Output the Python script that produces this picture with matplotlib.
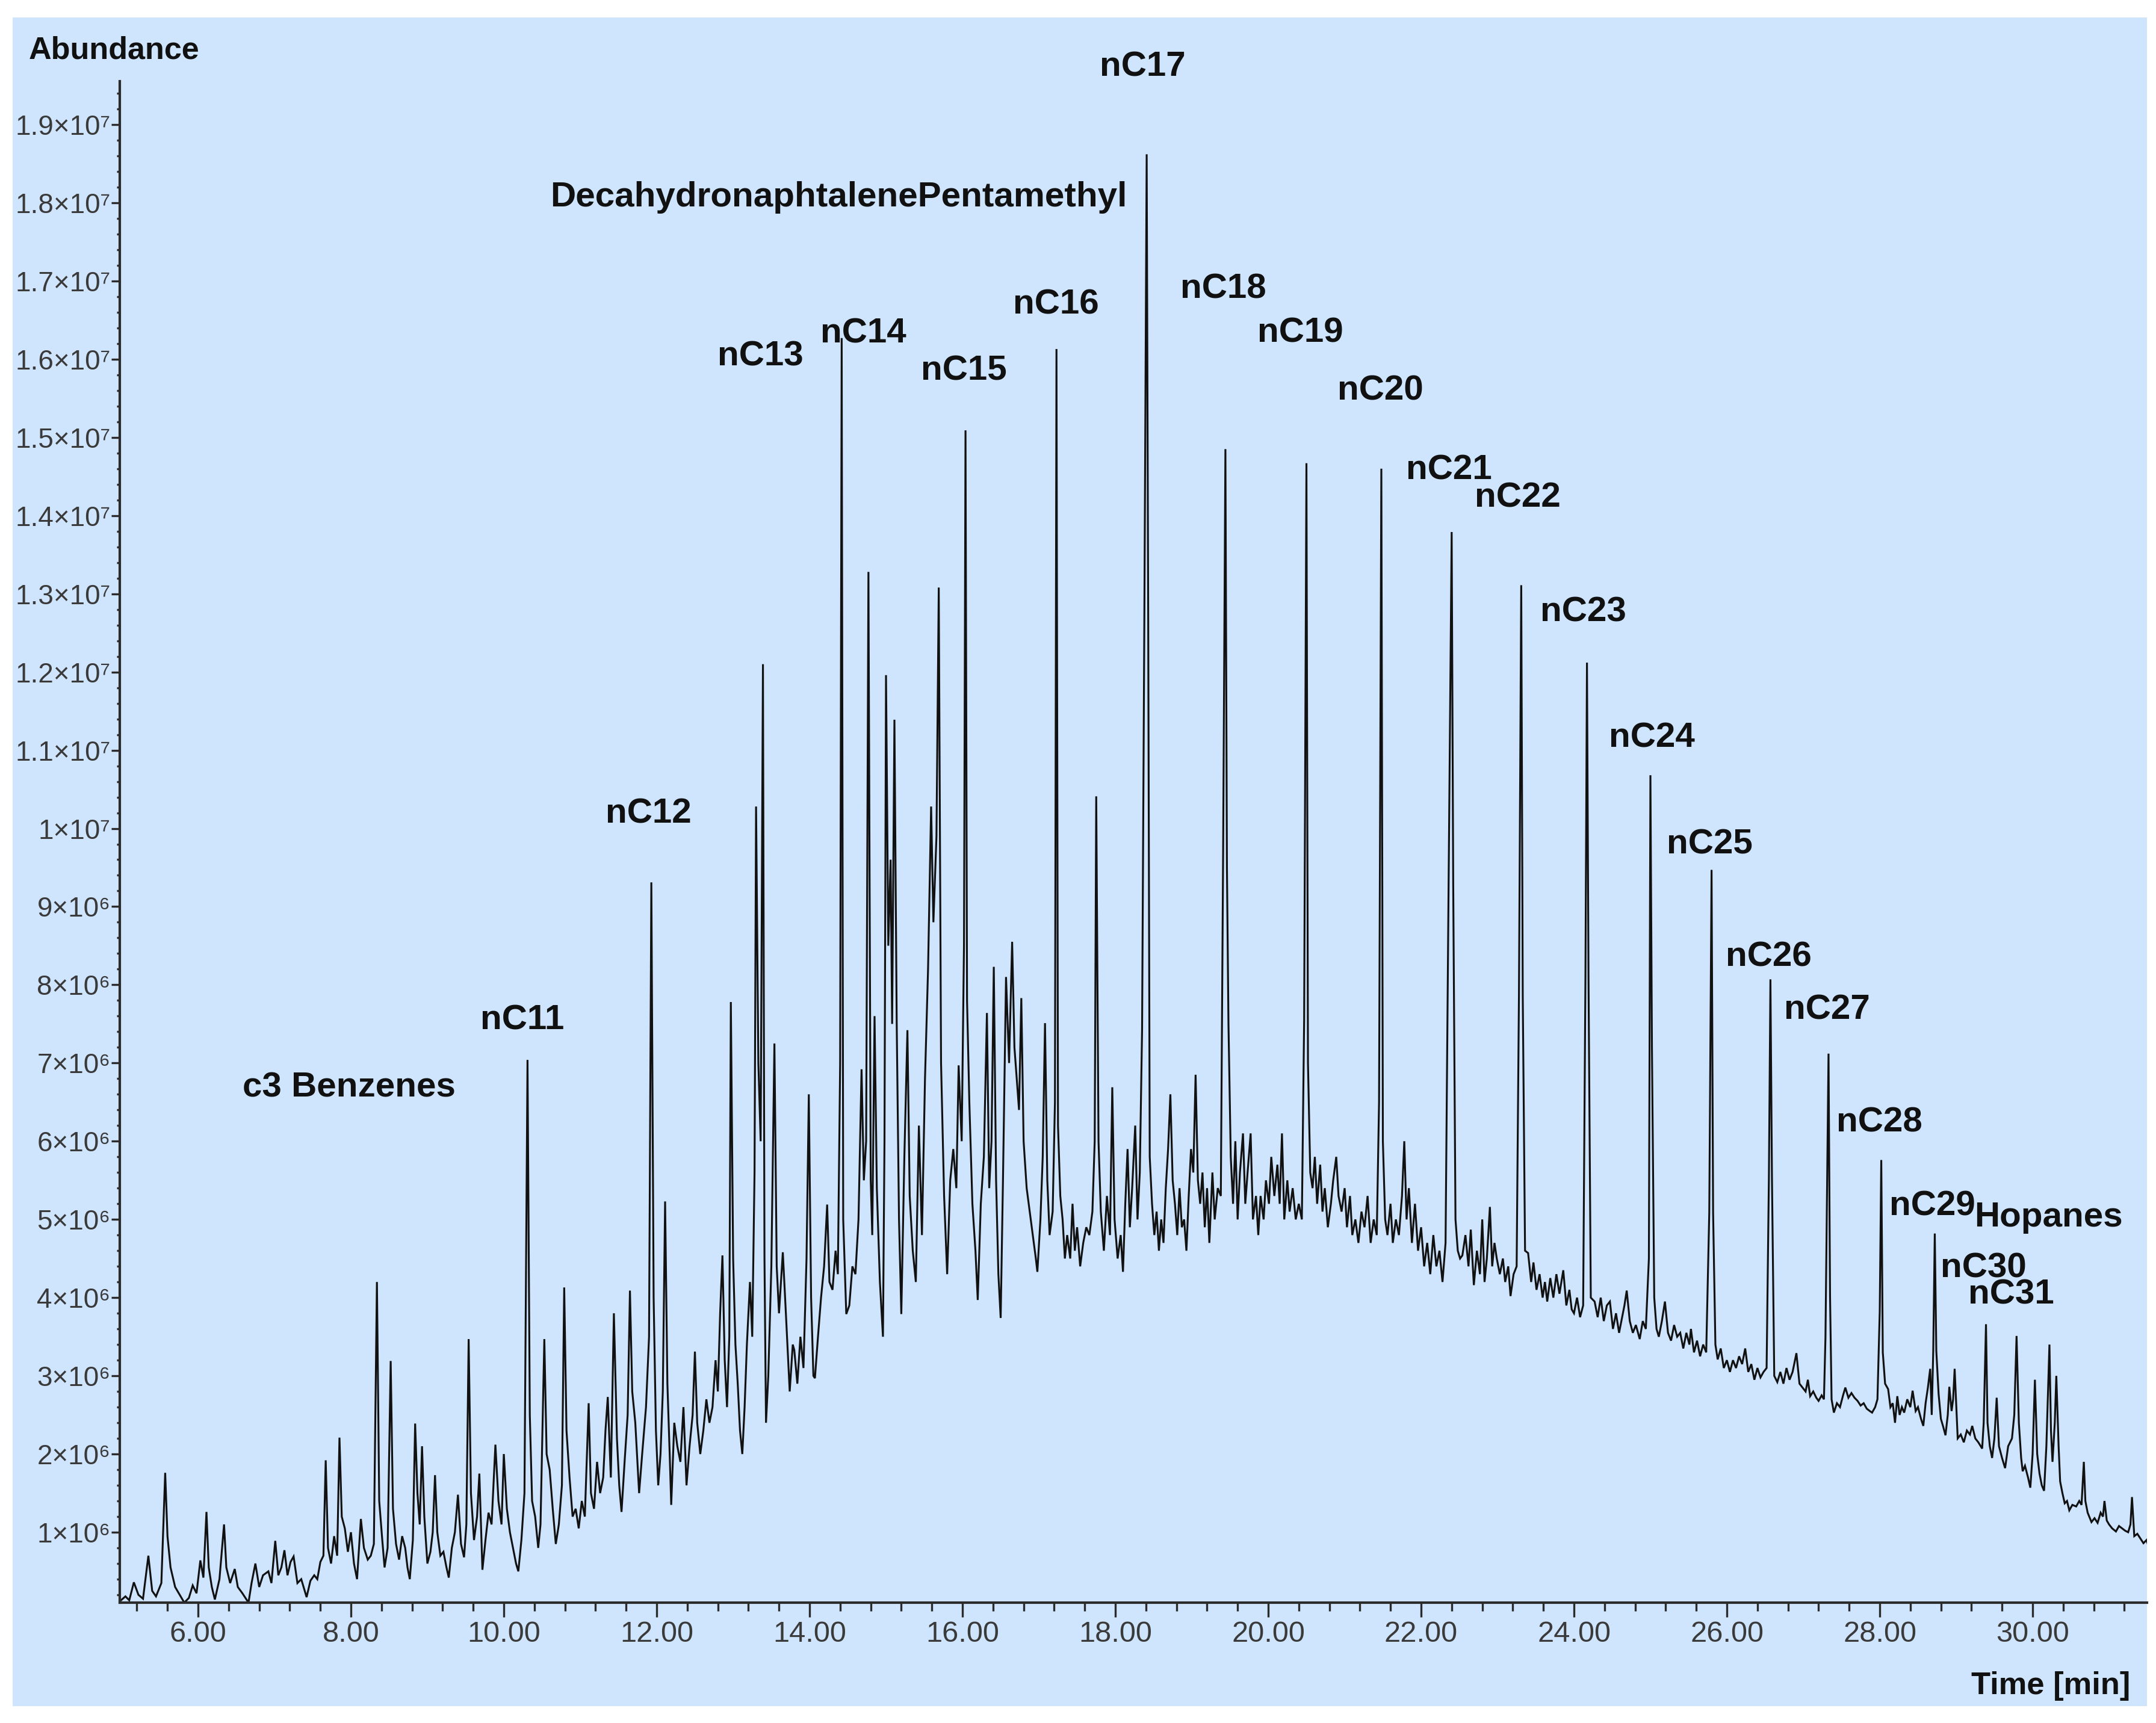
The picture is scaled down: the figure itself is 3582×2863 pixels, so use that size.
import matplotlib
matplotlib.use("Agg")
import matplotlib.pyplot as plt
from matplotlib.patches import Rectangle
from matplotlib.ticker import FixedLocator, MultipleLocator, NullFormatter

# ---------------- data (time [min], abundance [x1e6]) ----------------
trace_05_09 = [(4.98, 0.12), (5.05, 0.18), (5.10, 0.13), (5.16, 0.36), (5.22, 0.20), (5.28, 0.15), (5.35, 0.70),
    (5.40, 0.25), (5.45, 0.18), (5.52, 0.35), (5.57, 1.76), (5.60, 0.95), (5.64, 0.55), (5.70, 0.30), (5.76, 0.20),
    (5.82, 0.10), (5.88, 0.16), (5.93, 0.32), (5.98, 0.22), (6.03, 0.64), (6.07, 0.42), (6.11, 1.26), (6.14, 0.55),
    (6.18, 0.30), (6.22, 0.14), (6.28, 0.40), (6.34, 1.10), (6.37, 0.55), (6.42, 0.35), (6.48, 0.53), (6.52, 0.30),
    (6.58, 0.22), (6.66, 0.10), (6.70, 0.35), (6.75, 0.60), (6.80, 0.30), (6.85, 0.45), (6.92, 0.50), (6.96, 0.35),
    (7.01, 0.89), (7.05, 0.45), (7.09, 0.55), (7.13, 0.77), (7.17, 0.45), (7.21, 0.62), (7.25, 0.69), (7.30, 0.35),
    (7.35, 0.40), (7.42, 0.17), (7.47, 0.38), (7.52, 0.45), (7.56, 0.40), (7.60, 0.62), (7.64, 0.70), (7.67, 1.92),
    (7.70, 0.80), (7.74, 0.60), (7.78, 0.95), (7.82, 0.70), (7.85, 2.21), (7.88, 1.20), (7.92, 1.05), (7.96, 0.75),
    (8.00, 1.00), (8.04, 0.60), (8.08, 0.40), (8.13, 1.17), (8.17, 0.80), (8.22, 0.65), (8.26, 0.70), (8.30, 0.85),
    (8.34, 4.20), (8.37, 1.40), (8.41, 0.90), (8.44, 0.55), (8.48, 0.80), (8.52, 3.19), (8.55, 1.30), (8.59, 0.85),
    (8.63, 0.65), (8.67, 0.95), (8.71, 0.80), (8.74, 0.55), (8.77, 0.40), (8.81, 0.90), (8.84, 2.39), (8.87, 1.50),
    (8.90, 1.10), (8.93, 2.10), (8.96, 1.20), (9.00, 0.60), (9.04, 0.75), (9.07, 1.00), (9.10, 1.73), (9.13, 1.00),
    (9.17, 0.70), (9.21, 0.75), (9.25, 0.55), (9.28, 0.42), (9.32, 0.80), (9.36, 1.00), (9.40, 1.48)]

trace_09_13 = [(9.44, 0.85), (9.48, 0.68), (9.51, 1.10), (9.54, 3.47), (9.57, 1.50), (9.61, 0.90), (9.65, 1.20),
    (9.68, 1.75), (9.72, 0.52), (9.76, 0.90), (9.80, 1.25), (9.84, 1.10), (9.89, 2.12), (9.93, 1.40), (9.97, 1.10),
    (10.00, 2.00), (10.04, 1.30), (10.08, 1.00), (10.12, 0.80), (10.16, 0.60), (10.19, 0.50), (10.23, 0.90),
    (10.27, 1.50), (10.31, 7.04), (10.34, 2.50), (10.37, 1.40), (10.41, 1.20), (10.45, 0.80), (10.48, 1.10),
    (10.53, 3.47), (10.56, 2.00), (10.60, 1.80), (10.64, 1.30), (10.68, 0.85), (10.72, 1.10), (10.76, 1.60),
    (10.79, 4.13), (10.82, 2.30), (10.86, 1.70), (10.90, 1.20), (10.94, 1.30), (10.98, 1.05), (11.02, 1.40),
    (11.06, 1.20), (11.11, 2.65), (11.14, 1.50), (11.18, 1.30), (11.22, 1.90), (11.26, 1.50), (11.30, 1.70),
    (11.33, 2.30), (11.36, 2.73), (11.40, 1.70), (11.44, 3.80), (11.48, 2.20), (11.51, 1.60), (11.54, 1.26),
    (11.58, 1.90), (11.62, 2.50), (11.65, 4.09), (11.68, 2.80), (11.72, 2.40), (11.77, 1.50), (11.81, 2.00),
    (11.86, 2.60), (11.90, 3.50), (11.93, 9.31), (11.96, 4.00), (11.99, 2.30), (12.02, 1.60), (12.05, 2.00),
    (12.08, 2.80), (12.11, 5.23), (12.14, 2.90), (12.17, 2.00), (12.19, 1.35), (12.23, 2.40), (12.27, 2.10),
    (12.31, 1.90), (12.35, 2.60), (12.39, 1.60), (12.43, 2.10), (12.47, 2.50), (12.50, 3.31), (12.53, 2.40),
    (12.57, 2.00), (12.61, 2.30), (12.65, 2.70), (12.69, 2.40), (12.73, 2.60), (12.77, 3.20), (12.80, 2.80),
    (12.83, 3.80), (12.86, 4.54), (12.89, 3.20), (12.92, 2.60), (12.95, 3.50), (12.97, 7.78), (13.00, 4.50),
    (13.03, 3.40), (13.06, 2.90), (13.09, 2.30), (13.12, 2.00), (13.15, 2.60), (13.18, 3.40), (13.22, 4.20),
    (13.25, 3.50), (13.28, 5.60), (13.30, 10.28), (13.33, 7.00), (13.36, 6.00), (13.39, 12.10), (13.41, 4.50),
    (13.43, 2.40), (13.46, 3.00), (13.50, 4.40), (13.54, 7.25), (13.57, 4.40), (13.60, 3.80), (13.65, 4.58),
    (13.69, 3.80), (13.74, 2.80), (13.78, 3.40), (13.80, 3.33), (13.84, 2.90)]

trace_13_18 = [(13.88, 3.50), (13.92, 3.10), (13.96, 4.50), (13.99, 6.60), (14.02, 4.00), (14.05, 3.00),
    (14.07, 2.97), (14.11, 3.50), (14.15, 4.00), (14.19, 4.40), (14.23, 5.19), (14.26, 4.20), (14.30, 4.10),
    (14.34, 4.60), (14.37, 4.30), (14.40, 7.00), (14.42, 16.27), (14.44, 5.00), (14.48, 3.79), (14.52, 3.90),
    (14.56, 4.40), (14.60, 4.30), (14.64, 5.00), (14.68, 6.92), (14.71, 5.50), (14.74, 6.00), (14.77, 13.28),
    (14.80, 5.50), (14.82, 4.80), (14.85, 7.60), (14.88, 5.40), (14.92, 4.20), (14.96, 3.50), (14.98, 6.00),
    (15.00, 11.96), (15.03, 8.50), (15.06, 9.60), (15.08, 7.50), (15.11, 11.39), (15.14, 7.50), (15.17, 5.00),
    (15.20, 3.79), (15.24, 5.80), (15.28, 7.42), (15.31, 5.30), (15.35, 4.60), (15.39, 4.20), (15.43, 6.20),
    (15.47, 4.80), (15.51, 6.80), (15.55, 8.20), (15.59, 10.28), (15.62, 8.80), (15.66, 9.90), (15.69, 13.08),
    (15.72, 7.00), (15.76, 5.30), (15.80, 4.30), (15.84, 5.50), (15.88, 5.90), (15.92, 5.40), (15.95, 6.97),
    (15.99, 6.00), (16.02, 8.50), (16.04, 15.09), (16.06, 7.80), (16.09, 6.50), (16.13, 5.20), (16.17, 4.60),
    (16.20, 3.97), (16.24, 5.20), (16.28, 5.80), (16.32, 7.64), (16.35, 5.40), (16.38, 6.00), (16.41, 8.23),
    (16.44, 5.50), (16.47, 4.30), (16.50, 3.74), (16.53, 5.50), (16.57, 8.10), (16.61, 7.00), (16.65, 8.55),
    (16.68, 7.20), (16.71, 6.80), (16.74, 6.40), (16.77, 7.83), (16.80, 6.00), (16.84, 5.40), (16.88, 5.10),
    (16.92, 4.80), (16.96, 4.50), (16.98, 4.33), (17.02, 5.00), (17.05, 5.80), (17.08, 7.51), (17.11, 5.50),
    (17.14, 4.80), (17.18, 5.10), (17.21, 6.50), (17.23, 16.13), (17.25, 6.20), (17.28, 5.30), (17.31, 5.00),
    (17.34, 4.50), (17.37, 4.80), (17.41, 4.50), (17.44, 5.20), (17.47, 4.60), (17.50, 4.90), (17.54, 4.40),
    (17.58, 4.70), (17.62, 4.90), (17.66, 4.80), (17.70, 5.10), (17.73, 6.00), (17.75, 10.41), (17.78, 6.00),
    (17.81, 5.10), (17.85, 4.60), (17.89, 5.30), (17.93, 4.80), (17.96, 6.69), (17.99, 5.00), (18.03, 4.50),
    (18.07, 4.80), (18.10, 4.33), (18.13, 5.20), (18.16, 5.90), (18.19, 4.90), (18.22, 5.40), (18.26, 6.20)]

trace_18_22 = [(18.29, 5.00), (18.32, 5.60), (18.35, 7.43), (18.38, 12.78), (18.41, 18.62), (18.43, 12.70),
    (18.45, 5.80), (18.48, 5.20), (18.51, 4.80), (18.54, 5.10), (18.57, 4.60), (18.60, 5.00), (18.63, 4.70),
    (18.66, 5.40), (18.69, 5.90), (18.72, 6.60), (18.75, 5.50), (18.78, 5.20), (18.81, 4.80), (18.84, 5.40),
    (18.87, 4.90), (18.90, 5.00), (18.93, 4.60), (18.96, 5.30), (18.99, 5.90), (19.02, 5.60), (19.05, 6.85),
    (19.08, 5.50), (19.11, 5.20), (19.14, 5.60), (19.17, 4.90), (19.20, 5.40), (19.23, 4.70), (19.27, 5.60),
    (19.30, 5.00), (19.34, 5.40), (19.38, 5.30), (19.41, 9.67), (19.44, 14.85), (19.46, 9.50), (19.48, 7.50),
    (19.51, 5.80), (19.54, 5.20), (19.57, 6.00), (19.60, 5.00), (19.63, 5.60), (19.67, 6.10), (19.70, 5.20),
    (19.73, 5.60), (19.77, 6.10), (19.80, 5.00), (19.84, 5.30), (19.87, 4.80), (19.90, 5.30), (19.94, 5.00),
    (19.97, 5.50), (20.01, 5.20), (20.04, 5.80), (20.08, 5.30), (20.12, 5.70), (20.15, 5.20), (20.18, 6.10),
    (20.21, 5.00), (20.25, 5.50), (20.28, 5.10), (20.32, 5.40), (20.36, 5.00), (20.40, 5.20), (20.44, 5.00),
    (20.47, 7.55), (20.50, 14.67), (20.52, 7.00), (20.55, 5.60), (20.58, 5.40), (20.61, 5.80), (20.64, 5.20),
    (20.68, 5.70), (20.71, 5.10), (20.74, 5.40), (20.78, 4.90), (20.82, 5.20), (20.85, 5.50), (20.89, 5.80),
    (20.92, 5.30), (20.96, 5.10), (21.00, 5.40), (21.03, 4.90), (21.07, 5.30), (21.10, 4.80), (21.14, 5.00),
    (21.18, 4.70), (21.22, 5.10), (21.26, 4.90), (21.30, 5.30), (21.34, 4.70), (21.38, 5.00), (21.42, 4.80),
    (21.45, 6.50), (21.48, 14.60), (21.50, 6.00), (21.53, 5.00), (21.56, 4.80), (21.60, 5.20), (21.63, 4.70),
    (21.67, 5.00), (21.71, 4.80), (21.75, 5.30), (21.78, 6.00), (21.81, 5.00), (21.84, 5.40), (21.88, 4.70),
    (21.92, 5.20), (21.96, 4.60), (22.00, 4.90), (22.04, 4.40), (22.08, 4.70), (22.12, 4.30), (22.16, 4.80),
    (22.20, 4.40), (22.24, 4.60), (22.28, 4.20), (22.32, 4.70), (22.36, 9.30), (22.40, 13.79), (22.42, 9.30),
    (22.45, 5.00), (22.48, 4.60), (22.51, 4.50)]

trace_22_27 = [(22.54, 4.54), (22.58, 4.80), (22.62, 4.40), (22.65, 4.87), (22.69, 4.16), (22.73, 4.60),
    (22.77, 4.30), (22.80, 5.00), (22.83, 4.20), (22.86, 4.50), (22.90, 5.16), (22.93, 4.40), (22.96, 4.70),
    (22.99, 4.50), (23.03, 4.30), (23.07, 4.50), (23.10, 4.20), (23.14, 4.40), (23.17, 4.02), (23.21, 4.30),
    (23.25, 4.40), (23.28, 7.85), (23.31, 13.11), (23.33, 7.85), (23.36, 4.60), (23.40, 4.57), (23.44, 4.20),
    (23.47, 4.45), (23.51, 4.10), (23.55, 4.30), (23.59, 4.00), (23.62, 4.20), (23.65, 3.95), (23.69, 4.25),
    (23.73, 4.00), (23.77, 4.30), (23.81, 4.05), (23.86, 4.35), (23.90, 3.90), (23.94, 4.10), (23.97, 3.85),
    (24.00, 3.80), (24.04, 4.00), (24.08, 3.75), (24.12, 3.90), (24.15, 8.10), (24.17, 12.12), (24.19, 8.10),
    (24.22, 4.00), (24.27, 3.95), (24.31, 3.75), (24.35, 4.00), (24.39, 3.70), (24.43, 3.90), (24.47, 3.95),
    (24.51, 3.60), (24.55, 3.80), (24.59, 3.55), (24.63, 3.75), (24.66, 3.90), (24.69, 4.09), (24.73, 3.70),
    (24.77, 3.55), (24.81, 3.65), (24.86, 3.47), (24.90, 3.70), (24.94, 3.60), (24.98, 4.50), (25.00, 10.68),
    (25.02, 7.19), (25.05, 4.00), (25.08, 3.60), (25.11, 3.50), (25.15, 3.70), (25.19, 3.95), (25.23, 3.55),
    (25.27, 3.45), (25.31, 3.65), (25.35, 3.50), (25.39, 3.55), (25.43, 3.35), (25.47, 3.55), (25.51, 3.40),
    (25.53, 3.60), (25.57, 3.30), (25.61, 3.45), (25.65, 3.25), (25.69, 3.40), (25.73, 3.30), (25.77, 5.09),
    (25.80, 9.47), (25.82, 5.09), (25.85, 3.40), (25.88, 3.21), (25.92, 3.35), (25.96, 3.10), (26.00, 3.20),
    (26.04, 3.05), (26.08, 3.20), (26.12, 3.10), (26.16, 3.25), (26.20, 3.15), (26.24, 3.35), (26.28, 3.05),
    (26.32, 3.15), (26.36, 2.95), (26.40, 3.10), (26.44, 2.98), (26.48, 3.05), (26.52, 3.10), (26.55, 5.53),
    (26.57, 8.07), (26.59, 5.53), (26.62, 3.00), (26.66, 2.92), (26.70, 3.05), (26.74, 2.90), (26.78, 3.10),
    (26.82, 2.95), (26.86, 3.05), (26.91, 3.29), (26.95, 2.90), (26.99, 2.85), (27.03, 2.80)]

trace_27_31 = [(27.06, 2.95), (27.09, 2.74), (27.13, 2.80), (27.17, 2.72), (27.20, 2.68), (27.24, 2.75),
    (27.27, 2.70), (27.29, 3.49), (27.33, 7.12), (27.35, 4.01), (27.37, 2.70), (27.40, 2.53), (27.44, 2.65),
    (27.48, 2.60), (27.52, 2.75), (27.55, 2.85), (27.59, 2.72), (27.63, 2.78), (27.67, 2.72), (27.71, 2.68),
    (27.75, 2.62), (27.79, 2.65), (27.83, 2.58), (27.87, 2.55), (27.90, 2.53), (27.94, 2.60), (27.97, 2.70),
    (28.00, 3.82), (28.02, 5.76), (28.04, 3.30), (28.07, 2.90), (28.11, 2.83), (28.14, 2.60), (28.17, 2.65),
    (28.20, 2.40), (28.23, 2.74), (28.26, 2.50), (28.29, 2.60), (28.32, 2.53), (28.36, 2.70), (28.40, 2.60),
    (28.43, 2.81), (28.47, 2.55), (28.50, 2.60), (28.54, 2.45), (28.57, 2.36), (28.60, 2.65), (28.63, 2.85),
    (28.66, 3.09), (28.68, 2.50), (28.70, 3.32), (28.72, 4.82), (28.74, 3.32), (28.77, 2.77), (28.80, 2.45),
    (28.83, 2.35), (28.86, 2.24), (28.89, 2.50), (28.91, 2.86), (28.94, 2.55), (28.96, 2.70), (28.98, 3.09),
    (29.02, 2.20), (29.06, 2.25), (29.10, 2.15), (29.14, 2.30), (29.18, 2.25), (29.21, 2.36), (29.25, 2.20),
    (29.29, 2.15), (29.34, 2.07), (29.36, 2.40), (29.39, 3.66), (29.41, 2.40), (29.44, 2.10), (29.47, 1.95),
    (29.50, 2.20), (29.53, 2.72), (29.56, 2.10), (29.60, 1.95), (29.64, 1.82), (29.68, 2.10), (29.73, 2.20),
    (29.76, 2.50), (29.79, 3.51), (29.82, 2.40), (29.85, 1.95), (29.87, 1.78), (29.90, 1.85), (29.94, 1.70),
    (29.97, 1.57), (30.00, 2.00), (30.03, 2.95), (30.06, 2.00), (30.09, 1.75), (30.12, 1.60), (30.15, 1.53),
    (30.18, 2.10), (30.22, 3.40), (30.24, 2.30), (30.26, 1.90), (30.29, 2.40), (30.31, 3.00), (30.34, 2.10),
    (30.36, 1.65), (30.39, 1.50), (30.42, 1.37), (30.45, 1.40), (30.48, 1.28), (30.52, 1.35), (30.57, 1.33),
    (30.61, 1.40), (30.64, 1.35), (30.67, 1.90), (30.69, 1.40), (30.72, 1.25), (30.77, 1.13), (30.81, 1.18),
    (30.85, 1.12), (30.89, 1.25), (30.92, 1.20), (30.94, 1.40), (30.97, 1.15), (31.00, 1.10), (31.04, 1.05),
    (31.09, 1.01), (31.13, 1.08), (31.17, 1.05), (31.21, 1.02), (31.25, 1.00), (31.28, 1.10), (31.30, 1.45),
    (31.33, 0.95), (31.37, 0.98), (31.41, 0.92), (31.45, 0.86), (31.49, 0.90), (31.51, 0.84)]

# peak labels: text, anchor time [min], anchor abundance (baseline of text) [x1e6]
peak_labels = ["c3 Benzenes", "nC11", "nC12", "nC13", "nC14", "DecahydronaphtalenePentamethyl", "nC15", "nC16",
               "nC17", "nC18", "nC19", "nC20", "nC21", "nC22", "nC23", "nC24", "nC25", "nC26", "nC27", "nC28",
               "nC29", "Hopanes", "nC30", "nC31"]
label_time = [7.976, 10.244, 11.890, 13.354, 14.701, 14.378, 16.016, 17.220, 18.354, 19.409, 20.417, 21.465,
              22.362, 23.260, 24.118, 25.016, 25.772, 26.543, 27.307, 27.992, 28.685, 30.205, 29.354, 29.717]
label_abund = [6.57, 7.43, 10.07, 15.92, 16.21, 17.95, 15.73, 16.58, 19.62, 16.78, 16.22, 15.48, 14.46, 14.11,
               12.65, 11.04, 9.68, 8.24, 7.56, 6.12, 5.05, 4.91, 4.26, 3.92]

x_ticks = [6, 8, 10, 12, 14, 16, 18, 20, 22, 24, 26, 28, 30]
x_tick_labels = ["6.00", "8.00", "10.00", "12.00", "14.00", "16.00", "18.00", "20.00", "22.00", "24.00",
                 "26.00", "28.00", "30.00"]
y_ticks = [1e6, 2e6, 3e6, 4e6, 5e6, 6e6, 7e6, 8e6, 9e6, 1e7, 1.1e7, 1.2e7, 1.3e7, 1.4e7, 1.5e7, 1.6e7, 1.7e7,
           1.8e7, 1.9e7]
y_tick_labels = ["1×10⁶", "2×10⁶", "3×10⁶", "4×10⁶", "5×10⁶", "6×10⁶", "7×10⁶", "8×10⁶", "9×10⁶", "1×10⁷",
                 "1.1×10⁷", "1.2×10⁷", "1.3×10⁷", "1.4×10⁷", "1.5×10⁷", "1.6×10⁷", "1.7×10⁷", "1.8×10⁷",
                 "1.9×10⁷"]

# ---------------- figure ----------------
W, H, DPI = 3582, 2863, 300
BG = "#CFE4FD"
fig = plt.figure(figsize=(W / DPI, H / DPI), dpi=DPI)
fig.patch.set_facecolor("white")
fig.patches.append(Rectangle((21 / W, 1 - 2835 / H), (3567 - 21) / W, (2835 - 29) / H,
                             transform=fig.transFigure, facecolor=BG, edgecolor="none", zorder=-10))

ax = fig.add_axes([199 / W, (H - 2663) / H, (3567 - 199) / W, (2663 - 135) / H])
ax.set_facecolor("none")

segments = [trace_05_09, trace_09_13, trace_13_18, trace_18_22, trace_22_27, trace_27_31]
t_all = [p[0] for seg in segments for p in seg]
v_all = [p[1] * 1e6 for seg in segments for p in seg]
ax.plot(t_all, v_all, color="#111111", lw=0.75, solid_joinstyle="miter")

ax.set_xlim(4.976, 31.496)
ax.set_ylim(1.0e5, 1.9554e7)

for s in ("top", "right"):
    ax.spines[s].set_visible(False)
for s in ("left", "bottom"):
    ax.spines[s].set_color("#2b2b2b")
    ax.spines[s].set_linewidth(1.0)

ax.xaxis.set_major_locator(FixedLocator(x_ticks))
ax.set_xticklabels(x_tick_labels, family=["Liberation Sans Narrow", "Liberation Sans", "DejaVu Sans"],
                   fontsize=11.7, color="#3a3a3a")
ax.xaxis.set_minor_locator(FixedLocator([5.2 + 0.4 * i for i in range(66)]))
ax.yaxis.set_major_locator(FixedLocator(y_ticks))
ax.set_yticklabels(y_tick_labels, family=["Liberation Sans", "DejaVu Sans"], fontsize=11, color="#3a3a3a")
ax.yaxis.set_minor_locator(MultipleLocator(2e5))
ax.yaxis.set_minor_formatter(NullFormatter())

ax.tick_params(axis="x", which="major", length=5.8, width=0.8, color="#2b2b2b", pad=1.4)
ax.tick_params(axis="x", which="minor", length=3.4, width=0.8, color="#2b2b2b")
ax.tick_params(axis="y", which="major", length=3.4, width=0.8, color="#2b2b2b", pad=0.3)
ax.tick_params(axis="y", which="minor", length=1.2, width=0.8, color="#2b2b2b")

for name, tx, ty in zip(peak_labels, label_time, label_abund):
    ax.text(tx, ty * 1e6, name, ha="center", va="baseline", fontsize=14, fontweight="bold",
            family=["Liberation Sans", "DejaVu Sans"], color="#111111", clip_on=False)

fig.text(48 / W, 1 - 97 / H, "Abundance", ha="left", va="baseline", fontsize=12.5, fontweight="bold",
         family=["Liberation Sans", "DejaVu Sans"], color="#111111")
fig.text(3539 / W, 1 - 2815 / H, "Time [min]", ha="right", va="baseline", fontsize=12.6, fontweight="bold",
         family=["Liberation Sans", "DejaVu Sans"], color="#111111")

fig.savefig("out.png", dpi=DPI, facecolor="white")
